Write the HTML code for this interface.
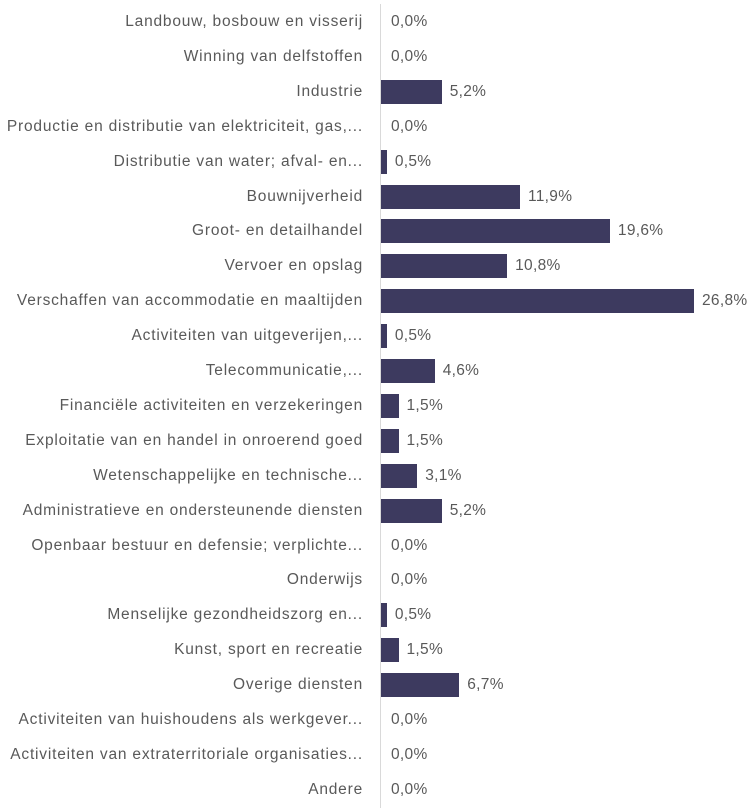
<!DOCTYPE html>
<html><head><style>
body{margin:0;background:#fff;width:754px;height:812px;position:relative;font-family:"Liberation Sans",sans-serif;font-size:15.5px;letter-spacing:0.8px;color:#595959;overflow:hidden}
.l{position:absolute;right:391px;white-space:nowrap;line-height:20px}
.v{position:absolute;white-space:nowrap;line-height:20px;letter-spacing:0.3px}
.b{position:absolute;left:381px;height:24px;background:#3d3a5f}
.ax{position:absolute;left:380px;top:4px;width:1px;height:804px;background:#d9d9d9}
</style></head><body>
<div class="ax"></div>
<div id="c"></div>
<script>
var d=[["Landbouw, bosbouw en visserij",0],["Winning van delfstoffen",0],["Industrie",5.2],["Productie en distributie van elektriciteit, gas,...",0],["Distributie van water; afval- en...",0.5],["Bouwnijverheid",11.9],["Groot- en detailhandel",19.6],["Vervoer en opslag",10.8],["Verschaffen van accommodatie en maaltijden",26.8],["Activiteiten van uitgeverijen,...",0.5],["Telecommunicatie,...",4.6],["Financiële activiteiten en verzekeringen",1.5],["Exploitatie van en handel in onroerend goed",1.5],["Wetenschappelijke en technische...",3.1],["Administratieve en ondersteunende diensten",5.2],["Openbaar bestuur en defensie; verplichte...",0],["Onderwijs",0],["Menselijke gezondheidszorg en...",0.5],["Kunst, sport en recreatie",1.5],["Overige diensten",6.7],["Activiteiten van huishoudens als werkgever...",0],["Activiteiten van extraterritoriale organisaties...",0],["Andere",0]];
var h="";
d.forEach(function(r,i){var cy=22+i*34.9;var w=r[1]*11.68;
h+='<div class="l" style="top:'+(cy-10)+'px">'+r[0]+'</div>';
if(w>0)h+='<div class="b" style="top:'+(cy-12)+'px;width:'+w+'px"></div>';
h+='<div class="v" style="top:'+(cy-10)+'px;left:'+(381+w+(w>0?8:10))+'px">'+r[1].toFixed(1).replace(".",",")+'%</div>';});
document.getElementById("c").innerHTML=h;
</script>
</body></html>
